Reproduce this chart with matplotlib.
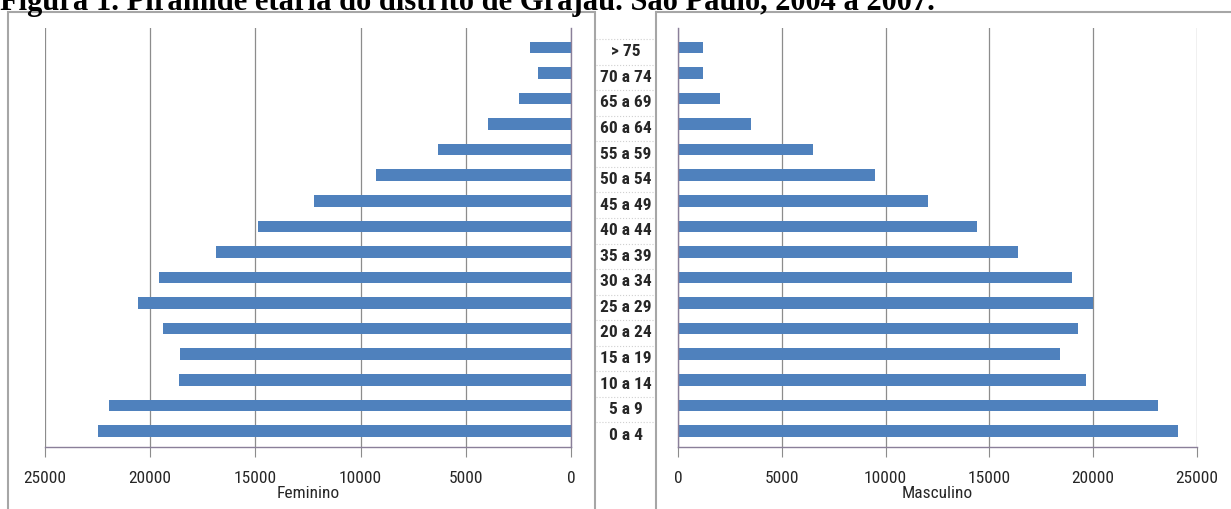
import matplotlib
matplotlib.use("Agg")
import matplotlib.pyplot as plt
from matplotlib.patches import Rectangle
from matplotlib import font_manager

faixas = ["> 75", "70 a 74", "65 a 69", "60 a 64", "55 a 59", "50 a 54", "45 a 49",
          "40 a 44", "35 a 39", "30 a 34", "25 a 29", "20 a 24", "15 a 19",
          "10 a 14", "5 a 9", "0 a 4"]
feminino = [1950, 1570, 2470, 3950, 6320, 9270, 12210, 14880, 16870, 19580,
            20580, 19390, 18580, 18630, 21960, 22480]
masculino = [1200, 1200, 2020, 3520, 6500, 9490, 12040, 14400, 16380, 18980,
             19990, 19270, 18400, 19650, 23120, 24080]
ticks = [0, 5000, 10000, 15000, 20000, 25000]

W, H = 1231, 509
installed = {f.name for f in font_manager.fontManager.ttflist}
narrow = [f for f in ["Liberation Sans Narrow", "DejaVu Sans Condensed",
                      "Roboto Condensed", "Open Sans Condensed"] if f in installed]
narrow = narrow + ["DejaVu Sans"]
is_narrow = narrow[0] != "DejaVu Sans"
bar_color = "#4F81BD"
grid_color = "#8c8c8c"
axis_color = "#8a7f99"
frame_color = "#a6a6a6"
text_color = "#262626"

fig = plt.figure(figsize=(W / 100, H / 100), dpi=100)


def px(x0, y0, x1, y1):
    # pixel box (top-left origin) -> figure fraction [left, bottom, w, h]
    return [x0 / W, 1 - y1 / H, (x1 - x0) / W, (y1 - y0) / H]


# panel frames
fig.patches.append(Rectangle((8 / W, -0.01), (595 - 8) / W, 1 - 12 / H + 0.01,
                             transform=fig.transFigure, fill=False,
                             edgecolor=frame_color, lw=1.5))
fig.patches.append(Rectangle((656 / W, -0.01), (1240 - 656) / W, 1 - 12 / H + 0.01,
                             transform=fig.transFigure, fill=False,
                             edgecolor=frame_color, lw=1.5))

n = len(faixas)
pos = [n - 1 - i for i in range(n)]
ylim = (-0.63, 15.76)
tick_fs = 12.5 if is_narrow else 10


def style(ax, xlabel):
    ax.set_ylim(*ylim)
    ax.set_xticks(ticks)
    ax.set_xticklabels([str(t) for t in ticks], family=narrow, fontsize=tick_fs,
                       color=text_color)
    ax.set_yticks([])
    ax.grid(axis="x", color=grid_color, lw=0.9)
    ax.set_axisbelow(True)
    ax.tick_params(axis="x", direction="out", length=7, color=grid_color,
                   pad=10)
    ax.set_xlabel(xlabel, family=narrow, fontsize=tick_fs, color=text_color,
                  labelpad=0)
    for s in ax.spines.values():
        s.set_color(axis_color)
        s.set_linewidth(1.0)


axl = fig.add_axes(px(45, 28, 571, 447))
axl.barh(pos, feminino, height=0.45, color=bar_color)
axl.set_xlim(25000, 0)
axl.spines["left"].set_visible(False)
axl.spines["top"].set_visible(False)
style(axl, "Feminino")

axr = fig.add_axes(px(678, 28, 1197, 447))
axr.barh(pos, masculino, height=0.45, color=bar_color)
axr.set_xlim(0, 25000)
axr.spines["right"].set_visible(False)
axr.spines["top"].set_visible(False)
style(axr, "Masculino")

# middle column with age groups
axm = fig.add_axes(px(596, 28, 656, 447))
axm.set_xlim(0, 1)
axm.set_ylim(*ylim)
axm.axis("off")
for p, lab in zip(pos, faixas):
    axm.text(0.5, p - 0.17, lab, ha="center", va="center", family=narrow,
             fontsize=12.5 if is_narrow else 9, color=text_color,
             fontweight="semibold")
for k in range(-1, n):
    axm.axhline(k + 0.33, color="#d0d0d0", lw=0.8, ls=":")

fig.text(0.0, 1 - 10 / H,
         "Figura 1. Pirâmide etária do distrito de Grajaú. São Paulo, 2004 a 2007.",
         family=["Liberation Serif", "DejaVu Serif"], fontweight="bold",
         fontsize=22, ha="left", va="baseline")

fig.savefig("out.png", dpi=100)
